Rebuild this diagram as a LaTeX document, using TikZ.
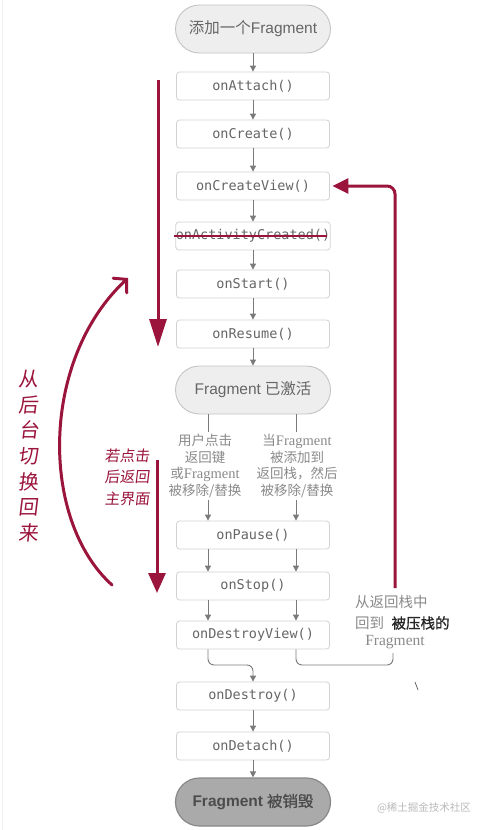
\documentclass[tikz,border=0pt]{standalone}
\usepackage{fontspec}
\setmainfont{Liberation Serif}
\newfontfamily\cjk{Noto Sans CJK SC}
\newfontfamily\cjkb[FakeBold=1]{Noto Sans CJK SC}
\newfontfamily\hand[FakeSlant=0.12]{Noto Sans CJK SC}
\newfontfamily\lsans{Liberation Sans}
\newfontfamily\lserif{Liberation Serif}
\newfontfamily\mono{DejaVu Sans Mono}
\usetikzlibrary{arrows.meta}
\definecolor{anno}{HTML}{9B143C}
\definecolor{boxline}{HTML}{D2D2D2}
\definecolor{boxtext}{HTML}{666666}
\definecolor{connc}{HTML}{7A7A7A}
\definecolor{midtext}{HTML}{8A8A8A}
\definecolor{termfill}{HTML}{EEEEEE}
\definecolor{termline}{HTML}{C4C4C4}
\definecolor{gonefill}{HTML}{AAAAAA}
\definecolor{goneline}{HTML}{888888}
\begin{document}
\begin{tikzpicture}[x=1pt,y=-1pt,
  method/.style={draw=boxline, line width=0.8pt, rounded corners=3pt,
    minimum width=153pt, minimum height=28pt, inner sep=0pt,
    font=\mono\fontsize{13.5}{16}\selectfont, text=boxtext},
  term/.style={draw=termline, fill=termfill, line width=0.9pt, rounded corners=24pt,
    minimum width=155pt, minimum height=48pt, inner sep=0pt,
    font=\fontsize{15.5}{18}\selectfont, text=boxtext},
  flow/.style={draw=connc, line width=0.9pt, -{Triangle[length=6pt,width=6pt]}},
  plainline/.style={draw=connc, line width=0.9pt},
  midlabel/.style={text=midtext, align=center, inner sep=2pt,
    font=\cjk\fontsize{13.5}{16.5}\selectfont},
  annoline/.style={draw=anno, line width=3pt},
  handtext/.style={text=anno, align=center, inner sep=0pt}
]
\useasboundingbox (0,0) rectangle (485,830);
\fill[white] (0,0) rectangle (485,830);
\draw[black!6, line width=1pt] (2,0) -- (2,830);

% main column
\node[term] (add) at (253,29) {{\cjk 添加一个}{\lsans Fragment}};
\node[method] (attach) at (253,86) {onAttach()};
\node[method] (create) at (253,134) {onCreate()};
\node[method] (cview) at (253,186) {onCreateView()};
\node[method] (acreated) at (253,236) {onActivityCreated()};
\node[method] (start) at (253,284) {onStart()};
\node[method] (resume) at (253,334) {onResume()};
\node[term] (active) at (253,390) {{\lsans Fragment} {\cjk 已激活}};
\node[midlabel] (lt) at (205,466) {用户点击\\返回键\\或{\lserif\fontsize{14.5}{16.5}\selectfont Fragment}\\被移除/替换};
\node[midlabel] (rt) at (297,466) {当{\lserif\fontsize{14.5}{16.5}\selectfont Fragment}\\被添加到\\返回栈，然后\\被移除/替换};
\node[method] (pause) at (253,535) {onPause()};
\node[method] (stop) at (253,586) {onStop()};
\node[method] (dview) at (253,635) {onDestroyView()};
\node[method] (destroy) at (253,696) {onDestroy()};
\node[method] (detach) at (253,746) {onDetach()};
\node[term, fill=gonefill, draw=goneline, line width=1.2pt, text=black!70] (gone) at (253,802)
  {{\lsans\bfseries Fragment} {\cjkb 被销毁}};

\coordinate (lx) at (208,0);
\coordinate (rx) at (296,0);
\coordinate (rend) at (393,653);
\coordinate (rbot) at (395,588);

% gray connectors
\draw[flow] (add) -- (attach);
\draw[flow] (attach) -- (create);
\draw[flow] (create) -- (cview);
\draw[flow] (cview) -- (acreated);
\draw[flow] (acreated) -- (start);
\draw[flow] (start) -- (resume);
\draw[flow] (resume) -- (active);
\draw[plainline] (active.south -| lx) -- (lt.north -| lx);
\draw[plainline] (active.south -| rx) -- (rt.north -| rx);
\draw[flow] (lt.south -| lx) -- (pause.north -| lx);
\draw[flow] (rt.south -| rx) -- (pause.north -| rx);
\draw[flow] (pause.south -| lx) -- (stop.north -| lx);
\draw[flow] (pause.south -| rx) -- (stop.north -| rx);
\draw[flow] (stop.south -| lx) -- (dview.north -| lx);
\draw[flow] (stop.south -| rx) -- (dview.north -| rx);
\draw[flow, rounded corners=6pt] (dview.south -| lx) |- (253,665) -- (destroy.north);
\draw[plainline, rounded corners=6pt] (dview.south -| rx) |- (rend |- 0,665) -- (rend);
\draw[flow] (destroy) -- (detach);
\draw[flow] (detach) -- (gone);

% back stack label
\node[midlabel, anchor=west, inner sep=0pt, font=\cjk\fontsize{14.5}{16}\selectfont] (bk1) at (355,602) {从返回栈中};
\node[midlabel, anchor=west, inner sep=0pt, font=\cjk\fontsize{14.5}{16}\selectfont] (bk2) at (355,623) {回到};
\node[anchor=west, inner sep=0pt, text=black!85, font=\cjkb\fontsize{14.5}{16}\selectfont] (bk3) at ([xshift=7pt]bk2.east) {被压栈的};
\node[midlabel, inner sep=0pt, font=\lserif\fontsize{15.5}{17}\selectfont] (bk4) at (395,642) {Fragment};

% strike-through
\draw[annoline, line width=2.5pt] ([xshift=-1.5pt]acreated.west) -- ([xshift=-4pt]acreated.east);

% red annotations
\coordinate (a1s) at (158,80);
\coordinate (a1e) at (158,347);
\draw[annoline, -{Triangle[length=28pt,width=17pt]}] (a1s) -- (a1e);
\coordinate (a2s) at (157,460);
\coordinate (a2e) at (157,593);
\draw[annoline, -{Triangle[length=20pt,width=17pt]}] (a2s) -- (a2e);
\draw[annoline, rounded corners=8pt, shorten >=2.5pt, -{Triangle[length=16pt,width=15pt]}] (rbot) |- (cview.east);
\coordinate (cs) at (112,585);
\coordinate (ce) at (128,278);
\draw[annoline, line cap=round, -{Straight Barb[length=9pt,width=20pt,line cap=round]}] (cs) .. controls (40,520) and (40,360) .. (ce);

\node[handtext, font=\hand\fontsize{20}{25.7}\selectfont] (hw1) at (29,456) {从\\后\\台\\切\\换\\回\\来};
\node[handtext, font=\hand\fontsize{15}{21.5}\selectfont] (hw2) at (127,477) {若点击\\后返回\\主界面};

% watermark and stray mark
\node[text=black!27, font=\cjk\fontsize{10.5}{12}\selectfont] (wm) at (424,808) {@稀土掘金技术社区};
\draw[black!65, line width=0.7pt] (415,682) -- (418,690);
\end{tikzpicture}
\end{document}
